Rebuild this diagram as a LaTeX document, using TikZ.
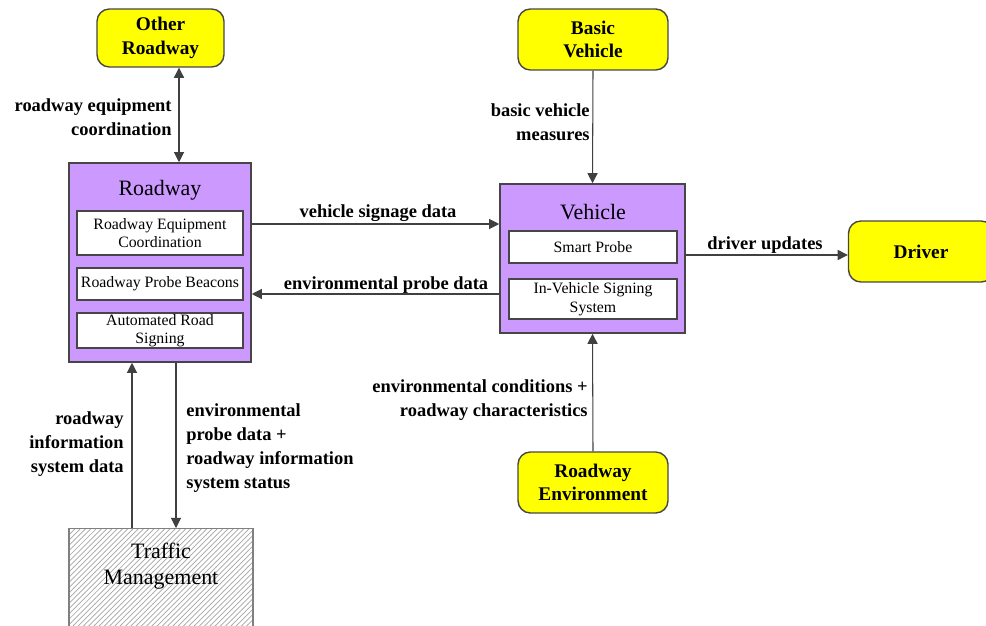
\documentclass[tikz,border=0pt]{standalone}
\usepackage{fontspec}
\setmainfont{Liberation Serif}
\usetikzlibrary{arrows.meta,patterns}

\definecolor{vio}{RGB}{204,153,255}
\definecolor{ylw}{RGB}{255,255,0}
\definecolor{edge}{RGB}{70,70,70}

\begin{document}
\begin{tikzpicture}[x=0.02cm,y=-0.02cm,
  ext/.style={draw=edge, line width=0.8pt, fill=ylw, rounded corners=7pt, align=center,
    font=\fontsize{11}{13.5}\selectfont\bfseries, inner sep=0pt},
  sys/.style={draw=edge, line width=0.9pt, fill=vio, inner sep=0pt},
  sub/.style={draw=edge, line width=0.8pt, fill=white, align=center, inner sep=0pt,
    font=\fontsize{9}{10.5}\selectfont},
  title/.style={font=\fontsize{12.5}{14.7}\selectfont, align=center},
  flow/.style={draw=black!75, line width=0.6pt, >={Triangle[length=5.8pt,width=5.8pt]}, ->},
  lbl/.style={font=\fontsize{10.5}{13.6}\selectfont\bfseries, inner sep=0pt},
]
\useasboundingbox (0,0) rectangle (986,625);

% external terminators
\node[ext, minimum width=2.54cm, minimum height=1.16cm] (other) at (160.5,38) {Other\\Roadway};
\node[ext, minimum width=3cm, minimum height=1.22cm] (basic) at (593,39.5) {Basic\\Vehicle};
\node[ext, minimum width=2.9cm, minimum height=1.22cm] (driver) at (921,251.5) {Driver};
\node[ext, minimum width=3cm, minimum height=1.22cm] (renv) at (593,482.5) {Roadway\\Environment};

% Roadway subsystem
\node[sys, minimum width=3.64cm, minimum height=3.98cm] (roadway) at (160,262.5) {};
\node[title] (rwtitle) at (160,190) {Roadway};
\node[sub, minimum width=3.32cm, minimum height=0.88cm] (rec) at (160,233) {Roadway Equipment\\Coordination};
\node[sub, minimum width=3.32cm, minimum height=0.64cm] (rpb) at (160,284) {Roadway Probe Beacons};
\node[sub, minimum width=3.32cm, minimum height=0.7cm] (ars) at (160,330.5) {Automated Road\\Signing};

% Vehicle subsystem
\node[sys, minimum width=3.7cm, minimum height=2.98cm] (vehicle) at (592.5,258.5) {};
\node[title] (vhtitle) at (593,212) {Vehicle};
\node[sub, minimum width=3.36cm, minimum height=0.64cm] (probe) at (593,247) {Smart Probe};
\node[sub, minimum width=3.36cm, minimum height=0.8cm] (ivs) at (593,299) {In-Vehicle Signing\\System};

% Traffic Management (hatched)
\node[draw=gray, line width=0.8pt, preaction={fill=white}, pattern=north east lines,
  pattern color=gray!70, minimum width=3.68cm, minimum height=2.3cm, anchor=north] (tm) at (161,528) {};
\node[title] (tmtext) at (161,566) {Traffic\\Management};

% helper coordinates for connector positions
\coordinate (xa) at (179,0);
\coordinate (ya) at (0,224);
\coordinate (yb) at (0,294);
\coordinate (yc) at (0,255);
\coordinate (xc) at (132,0);
\coordinate (xd) at (176,0);

% flows
\draw[flow, <->] (other.south -| xa) -- (roadway.north -| xa);
\draw[flow] (roadway.east |- ya) -- (vehicle.west |- ya);
\draw[flow] (vehicle.west |- yb) -- (roadway.east |- yb);
\draw[flow] (basic.south) -- (vehicle.north);
\draw[flow] (vehicle.east |- yc) -- (driver.west |- yc);
\draw[flow] (renv.north) -- (vehicle.south);
\draw[flow] (tm.north -| xc) -- (roadway.south -| xc);
\draw[flow] (roadway.south -| xd) -- (tm.north -| xd);

% flow labels
\node[lbl, align=right, anchor=east] (l1) at (172,117) {roadway equipment\\coordination};
\node[lbl] (l2) at (378,213) {vehicle signage data};
\node[lbl] (l3) at (386,285) {environmental probe data};
\node[lbl, align=right, anchor=east] (l4) at (590,122) {basic vehicle\\measures};
\node[lbl] (l5) at (765,245) {driver updates};
\node[lbl, align=right, anchor=east] (l6) at (588,400) {environmental conditions +\\roadway characteristics};
\node[lbl, align=right, anchor=east] (l7) at (124,444) {roadway\\information\\system data};
\node[lbl, align=left, anchor=west] (l8) at (186,448) {environmental\\probe data +\\roadway information\\system status};
\end{tikzpicture}
\end{document}
